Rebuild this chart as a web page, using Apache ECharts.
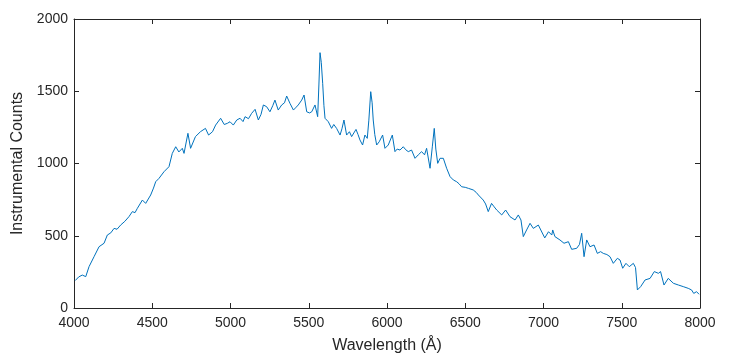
<!DOCTYPE html>
<html>
<head>
<meta charset="utf-8">
<script src="https://cdn.jsdelivr.net/npm/echarts@6/dist/echarts.min.js"></script>
<style>html,body{margin:0;padding:0;background:#fff;}#c{width:730px;height:356px;}</style>
</head>
<body>
<div id="c"></div>
<script>
const wavelengths = [4008,4030,4053,4075,4096,4128,4160,4192,4213,4235,4256,4275,4298,4325,4351,4373,4390,4405,4437,4458,4490,4508,4522,4543,4575,4607,4628,4650,4670,4692,4703,4728,4745,4776,4808,4840,4860,4885,4905,4937,4960,4980,4997,
5018,5040,5061,5080,5093,5115,5135,5157,5178,5195,5210,5231,5252,5270,5284,5305,5327,5345,5359,5380,5402,5420,5433,5455,5470,5487,5505,5519,5540,5557,5565,5572,5580,5589,5597,5604,5625,5646,5660,5678,5700,5712,5725,5742,5760,5774,5802,5815,5827,5844,5859,5874,5884,5896,5905,5912,5922,5934,5950,5972,5987,
6008,6034,6051,6065,6083,6104,6120,6136,6157,6179,6200,6221,6240,6253,6275,6290,6302,6312,6324,6339,6360,6381,6403,6424,6445,6460,6477,6500,6520,6551,6570,6584,6615,6630,6647,6668,6685,6701,6733,6758,6786,6818,6839,6856,6871,6892,6914,6935,6967,6978,
7008,7032,7053,7059,7073,7105,7131,7159,7180,7212,7230,7244,7259,7276,7297,7323,7344,7365,7382,7405,7425,7446,7472,7489,7506,7527,7548,7574,7588,7600,7621,7649,7681,7708,7734,7748,7770,7797,7830,7862,7893,7925,7946,7960,7978,7994];
const counts = [190,215,228,217,286,355,424,448,505,520,551,545,574,600,632,667,660,690,747,724,782,830,874,897,943,978,1070,1116,1080,1105,1070,1209,1105,1186,1220,1243,1197,1220,1266,1313,1270,1278,1289,
1266,1301,1313,1290,1324,1310,1347,1375,1301,1340,1405,1393,1358,1400,1439,1370,1405,1420,1467,1416,1370,1390,1405,1439,1474,1358,1350,1358,1405,1324,1550,1767,1700,1555,1400,1313,1289,1243,1270,1243,1197,1240,1301,1197,1220,1186,1236,1200,1163,1128,1197,1174,1300,1497,1420,1301,1200,1128,1150,1197,1105,
1128,1197,1082,1100,1093,1116,1095,1082,1093,1036,1060,1082,1060,1105,967,1120,1243,1100,1001,1036,1036,967,909,886,874,860,839,835,828,817,800,782,747,720,667,724,700,678,644,678,632,609,644,609,494,540,586,551,574,563,
485,528,505,540,494,471,448,459,406,413,440,517,355,471,424,436,378,390,378,370,355,309,344,332,275,309,286,309,280,125,148,194,205,252,240,252,159,205,171,159,148,136,125,101,113,95];
const xTicks = {min: 4000, max: 8000, interval: 500};
const yTicks = {min: 0, max: 2000, interval: 500};

const axisColor = '#262626';
const fontFam = 'Liberation Sans, Arial, Helvetica, sans-serif';
const data = wavelengths.map((w, i) => [w, counts[i]]);
const plain = v => String(v);

const chart = echarts.init(document.getElementById('c'), null, {renderer: 'canvas'});
const baseAxis = () => ({
  axisLine: {show: true, onZero: false, lineStyle: {color: axisColor, width: 1}},
  axisTick: {show: true, inside: true, length: 5, lineStyle: {color: axisColor, width: 1}},
  splitLine: {show: false}
});
chart.setOption({
  animation: false,
  backgroundColor: '#fff',
  grid: {left: 74, right: 30, top: 19, bottom: 48, containLabel: false, outerBoundsMode: 'none'},
  xAxis: [
    Object.assign(baseAxis(), {
      type: 'value', position: 'bottom', min: xTicks.min, max: xTicks.max, interval: xTicks.interval,
      axisLabel: {show: true, color: axisColor, fontSize: 14, fontFamily: fontFam, margin: 8, formatter: plain},
      name: 'Wavelength (Å)', nameLocation: 'middle', nameGap: 30,
      nameTextStyle: {color: axisColor, fontSize: 16, fontFamily: fontFam}
    }),
    Object.assign(baseAxis(), {
      type: 'value', position: 'top', min: xTicks.min, max: xTicks.max, interval: xTicks.interval,
      axisLabel: {show: false}
    })
  ],
  yAxis: [
    Object.assign(baseAxis(), {
      type: 'value', position: 'left', min: yTicks.min, max: yTicks.max, interval: yTicks.interval,
      axisLabel: {show: true, color: axisColor, fontSize: 14, fontFamily: fontFam, margin: 6, formatter: plain},
      name: 'Instrumental Counts', nameLocation: 'middle', nameGap: 41,
      nameTextStyle: {color: axisColor, fontSize: 16, fontFamily: fontFam}
    }),
    Object.assign(baseAxis(), {
      type: 'value', position: 'right', min: yTicks.min, max: yTicks.max, interval: yTicks.interval,
      axisLabel: {show: false}
    })
  ],
  series: [{
    type: 'line', data: data, xAxisIndex: 0, yAxisIndex: 0,
    showSymbol: false, symbol: 'none',
    lineStyle: {color: '#0072BD', width: 1},
    itemStyle: {color: '#0072BD'}
  }]
});
</script>
</body>
</html>
